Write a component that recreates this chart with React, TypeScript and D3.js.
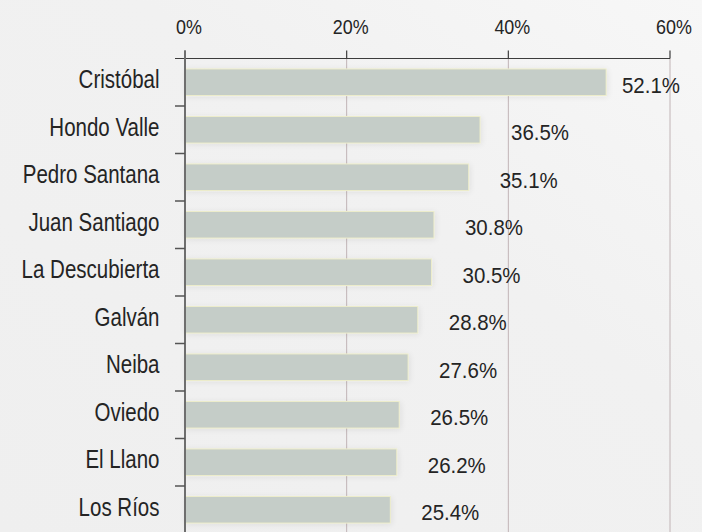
import React from "react";
import * as d3 from "d3";

const categories = [
  "Cristóbal",
  "Hondo Valle",
  "Pedro Santana",
  "Juan Santiago",
  "La Descubierta",
  "Galván",
  "Neiba",
  "Oviedo",
  "El Llano",
  "Los Ríos",
];
const values = [52.1, 36.5, 35.1, 30.8, 30.5, 28.8, 27.6, 26.5, 26.2, 25.4];
const xTicks = [0, 20, 40, 60];

const width = 702;
const height = 532;
const font = "'Liberation Sans', Arial, sans-serif";

// the reference face is condensed: letters narrow, digits a bit wider
function NarrowText(props: {
  x: number;
  y: number;
  size: number;
  squeeze: number;
  anchor?: string;
  children: React.ReactNode;
}) {
  return (
    <text
      transform={`translate(${props.x},${props.y}) scale(${props.squeeze},1)`}
      textAnchor={props.anchor || "start"}
      fontFamily={font}
      fontSize={props.size}
      fill="#242424"
    >
      {props.children}
    </text>
  );
}

export default function App() {
  const x = d3.scaleLinear().domain([0, 60]).range([185, 670]);
  const y = d3
    .scaleBand<string>()
    .domain(categories)
    .range([58.5, 533.5])
    .paddingInner(0.44)
    .paddingOuter(0.22);

  const step = y.step();
  const bw = y.bandwidth();
  const gap = (step - bw) / 2;
  // band boundaries for the left axis ticks
  const boundaries = categories.map((c) => (y(c) as number) - gap);

  const top = 58.5;

  return (
    <svg
      width={width}
      height={height}
      style={{ position: "absolute", left: 0, top: 0 }}
    >
      <defs>
        <linearGradient id="bg" x1="0" y1="1" x2="1" y2="0">
          <stop offset="0%" stopColor="#efefef" />
          <stop offset="60%" stopColor="#f1f1f1" />
          <stop offset="100%" stopColor="#f7f7f7" />
        </linearGradient>
        <filter id="shadow" x="-10%" y="-40%" width="120%" height="180%">
          <feGaussianBlur in="SourceAlpha" stdDeviation="3" />
          <feOffset dx="1" dy="1" result="b" />
          <feComponentTransfer>
            <feFuncA type="linear" slope="0.08" />
          </feComponentTransfer>
          <feMerge>
            <feMergeNode />
            <feMergeNode in="SourceGraphic" />
          </feMerge>
        </filter>
      </defs>
      <rect width={width} height={height} fill="url(#bg)" />

      {/* grid lines */}
      {xTicks
        .filter((t) => t > 0)
        .map((t) => (
          <line
            key={"g" + t}
            x1={x(t)}
            x2={x(t)}
            y1={top}
            y2={height}
            stroke="#c1b4b6"
            strokeWidth={1}
          />
        ))}

      {/* bars */}
      {categories.map((c, i) => (
        <rect
          key={c}
          x={x(0)}
          y={y(c)}
          width={x(values[i]) - x(0)}
          height={bw}
          fill="#c5cdc8"
          stroke="#eeeecb"
          strokeWidth={1}
          filter="url(#shadow)"
        />
      ))}

      {/* value labels */}
      {categories.map((c, i) => (
        <NarrowText
          key={"v" + c}
          x={Math.min(x(values[i]) + 31, 622)}
          y={(y(c) as number) + bw / 2 + 10.5}
          size={22}
          squeeze={0.93}
        >
          {values[i].toFixed(1) + "%"}
        </NarrowText>
      ))}

      {/* category labels */}
      {categories.map((c) => (
        <NarrowText
          key={"c" + c}
          x={159.5}
          y={(y(c) as number) + bw / 2 + 6}
          anchor="end"
          size={25}
          squeeze={0.82}
        >
          {c}
        </NarrowText>
      ))}

      {/* top axis */}
      <line x1={175} x2={x(60)} y1={top} y2={top} stroke="#3c3c3c" strokeWidth={1.2} />
      {xTicks.map((t) => (
        <g key={"t" + t}>
          <line x1={x(t)} x2={x(t)} y1={top - 8} y2={top} stroke="#3c3c3c" strokeWidth={1.2} />
          <NarrowText x={x(t) + 4} y={34} anchor="middle" size={19.5} squeeze={0.92}>
            {t + "%"}
          </NarrowText>
        </g>
      ))}

      {/* left axis */}
      <line x1={x(0)} x2={x(0)} y1={top - 8} y2={height} stroke="#6e6e6e" strokeWidth={2} />
      {boundaries.slice(1).map((b, i) => (
        <line key={"l" + i} x1={175} x2={x(0)} y1={b} y2={b} stroke="#555" strokeWidth={1.5} />
      ))}
    </svg>
  );
}
